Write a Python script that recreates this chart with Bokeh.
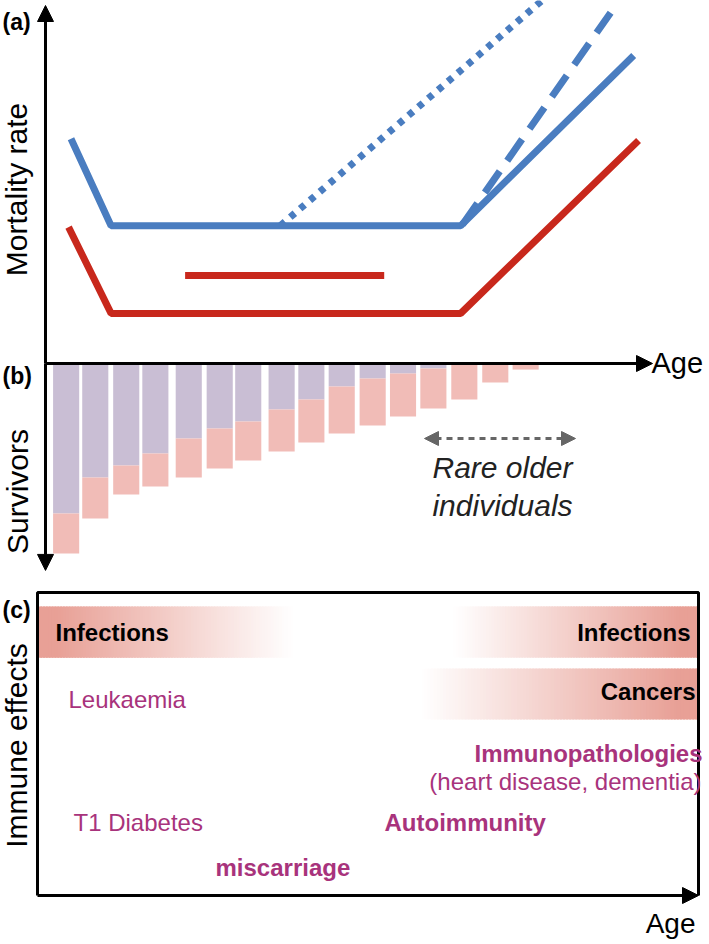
import math
from bokeh.plotting import figure
from bokeh.models import Range1d, Label, Arrow, NormalHead
from bokeh.embed import file_html
from bokeh.resources import INLINE

# ---------------- data ----------------
# Panel (a): mortality rate (arbitrary units) against age (arbitrary units)
age_blue = [4.2, 10.8, 68.4, 96.9]
mort_blue = [62.8, 38.5, 38.5, 86.0]
age_blue_dotted = [38.7, 82.9]
mort_blue_dotted = [38.5, 103.0]
age_blue_dashed = [68.7, 93.1]
mort_blue_dashed = [38.8, 98.0]
age_red = [3.8, 10.8, 68.4, 97.7]
mort_red = [38.1, 14.0, 14.0, 62.3]
age_red_short = [23.0, 55.8]
mort_red_short = [24.6, 24.6]

# Panel (b): survivors per age class (downwards)
bar_age = [3.4, 8.2, 13.3, 18.1, 23.6, 28.7, 33.4, 38.9, 43.8, 48.8, 53.9, 58.9, 63.9, 69.0, 74.1, 79.1]
surv_purple = [78.9, 60.0, 53.7, 47.4, 39.5, 34.2, 30.5, 24.2, 18.9, 12.1, 7.9, 5.3, 2.6, 0, 0, 0]
surv_total = [100.0, 81.6, 68.9, 64.7, 60.0, 55.3, 51.1, 46.3, 41.6, 36.8, 32.6, 27.9, 23.7, 18.9, 10.0, 3.2]

# Panel (c): shaded bands (age from, age to, effect bottom, effect top, solid side)
band_names = ["Infections (young)", "Infections (old)", "Cancers"]
band_age_from = [0.0, 62.9, 58.1]
band_age_to = [38.7, 100.0, 100.0]
band_eff_bottom = [78.5, 78.5, 58.1]
band_eff_top = [95.4, 95.4, 74.9]
band_solid_side = ["left", "right", "right"]

# ---------------- figure ----------------
XL, XR, YT, YB = 0, 709, 0, 944
W, H = 709, 944
p = figure(width=W, height=H, x_range=Range1d(XL, XR), y_range=Range1d(YB, YT),
           x_axis_type=None, y_axis_type=None, output_backend="svg",
           toolbar_location=None, min_border=0, outline_line_color=None,
           background_fill_color="white", border_fill_color="white")
p.grid.visible = False

# scales: reference layout pixel = origin + unit * value
AX0, AXU = 45.0, 6.07     # age axis (panels a, b)
MY0, MYU = 363.0, 3.58    # mortality (up)
SY0, SYU = 363.0, 1.9     # survivors (down)
CX0, CXU = 37.0, 6.61     # age axis (panel c)
EY0, EYU = 895.0, 3.03    # immune effects (up)
p.extra_x_ranges = {
    "age": Range1d((XL - AX0) / AXU, (XR - AX0) / AXU),
    "agec": Range1d((XL - CX0) / CXU, (XR - CX0) / CXU),
}
p.extra_y_ranges = {
    "mort": Range1d((MY0 - YB) / MYU, (MY0 - YT) / MYU),
    "surv": Range1d((YB - SY0) / SYU, (YT - SY0) / SYU),
    "eff": Range1d((EY0 - YB) / EYU, (EY0 - YT) / EYU),
}

BLUE = "#4A7DC0"
RED = "#C8281C"
MAG = "#A8337C"
FONT = "Liberation Sans"

# ---- panel (a) ----
p.line(age_blue_dotted, mort_blue_dotted, x_range_name="age", y_range_name="mort",
       line_color=BLUE, line_width=7, line_dash="6 7", line_cap="butt")
p.line(age_blue_dashed, mort_blue_dashed, x_range_name="age", y_range_name="mort",
       line_color=BLUE, line_width=7, line_dash="26 13", line_cap="butt")
p.line(age_blue, mort_blue, x_range_name="age", y_range_name="mort",
       line_color=BLUE, line_width=7)
p.line(age_red, mort_red, x_range_name="age", y_range_name="mort",
       line_color=RED, line_width=7)
p.line(age_red_short, mort_red_short, x_range_name="age", y_range_name="mort",
       line_color=RED, line_width=7)

# ---- panel (b) ----
p.vbar(x=bar_age, width=4.3, bottom=0, top=surv_purple, x_range_name="age",
       y_range_name="surv", fill_color="#C9BED4", line_color=None)
p.vbar(x=bar_age, width=4.3, bottom=surv_purple, top=surv_total, x_range_name="age",
       y_range_name="surv", fill_color="#F1BCB7", line_color=None)

# axes of panels (a) and (b)
def head(sz=16, col="black"):
    return NormalHead(size=sz, fill_color=col, line_color=col)

p.add_layout(Arrow(end=head(), x_start=0, y_start=0, x_end=0, y_end=100.0,
                   x_range_name="age", y_range_name="mort", line_width=3))
p.add_layout(Arrow(end=head(), x_start=0, y_start=0, x_end=0, y_end=108.9,
                   x_range_name="age", y_range_name="surv", line_width=3))
p.add_layout(Arrow(end=head(), x_start=0, y_start=0, x_end=100, y_end=0,
                   x_range_name="age", y_range_name="mort", line_width=3))

# rare older individuals double arrow
p.add_layout(Arrow(start=head(14, "#666666"), end=head(14, "#666666"),
                   x_start=424, y_start=438, x_end=575, y_end=438,
                   line_color="#666666", line_width=3, line_dash="6 5"))

# ---- panel (c) bands (gradient) ----
base = (232, 160, 150)
NS = 90
for a0, a1, b0, b1, side in zip(band_age_from, band_age_to, band_eff_bottom,
                                band_eff_top, band_solid_side):
    lefts, rights, cols = [], [], []
    step = (a1 - a0) / NS
    for i in range(NS):
        t = (i + 0.5) / NS
        alpha = 1 - t if side == "left" else t
        alpha = max(0.0, min(1.0, alpha * 1.08))
        r = round(255 + (base[0] - 255) * alpha)
        g = round(255 + (base[1] - 255) * alpha)
        b = round(255 + (base[2] - 255) * alpha)
        lefts.append(a0 + i * step)
        rights.append(a0 + (i + 1) * step + step * 0.6)
        cols.append("#%02x%02x%02x" % (r, g, b))
    rights[-1] = a1
    p.quad(left=lefts, right=rights, bottom=b0, top=b1, fill_color=cols,
           line_color=None, x_range_name="agec", y_range_name="eff")

# panel (c) frame
p.line([0, 0, 100, 100], [0, 100, 100, 0], x_range_name="agec", y_range_name="eff",
       line_color="black", line_width=3)
p.add_layout(Arrow(end=head(), x_start=0, y_start=0, x_end=100, y_end=0,
                   x_range_name="agec", y_range_name="eff", line_width=3))

# ---------------- texts ----------------
def lab(text, x, y, size=24, align="left", bold=False, italic=False,
        color="black", angle=0.0, baseline="middle"):
    style = "bold" if bold else ("italic" if italic else "normal")
    p.add_layout(Label(x=x, y=y, text=text, text_font=FONT,
                       text_font_size=f"{size}px", text_font_style=style,
                       text_color=color, text_align=align, text_baseline=baseline,
                       angle=angle))

lab("(a)", 2, 21, size=23, bold=True)
lab("(b)", 2, 375, size=23, bold=True)
lab("(c)", 2, 609, size=23, bold=True)

lab("Mortality rate", 16, 189, size=30, align="center", angle=math.pi / 2)
lab("Survivors", 17, 491, size=30, align="center", angle=math.pi / 2)
lab("Immune effects", 16, 745, size=30, align="center", angle=math.pi / 2)

lab("Age", 651, 362, size=29)
lab("Age", 695, 923, size=28, align="right")

lab("Rare older", 502, 467, size=30, align="center", italic=True, color="#222222")
lab("individuals", 502, 505, size=30, align="center", italic=True, color="#222222")

lab("Infections", 55, 632, size=24, bold=True)
lab("Infections", 690, 632, size=24, bold=True, align="right")
lab("Cancers", 695, 691, size=24, bold=True, align="right")
lab("Leukaemia", 68, 699, size=24, color=MAG)
lab("Immunopathologies", 702, 753, size=24, bold=True, color=MAG, align="right")
lab("(heart disease, dementia)", 701, 781, size=24, color=MAG, align="right")
lab("T1 Diabetes", 73, 822, size=24, color=MAG)
lab("Autoimmunity", 384, 822, size=24, bold=True, color=MAG)
lab("miscarriage", 215, 867, size=24, bold=True, color=MAG)

open("out.html", "w").write(file_html(p, INLINE))
